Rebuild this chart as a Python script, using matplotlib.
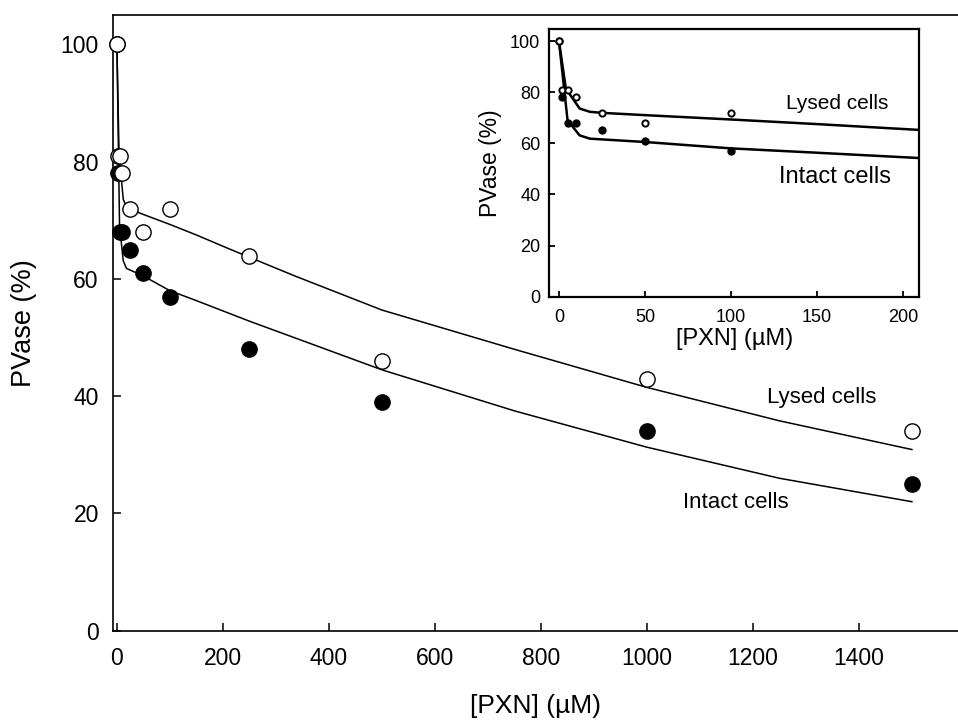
import matplotlib
matplotlib.use("Agg")
import matplotlib.pyplot as plt

plt.rcParams['font.family'] = ['Liberation Sans', 'DejaVu Sans']

# ---- data ----
conc = [0, 2, 5, 10, 25, 50, 100, 250, 500, 1000, 1500]
lysed = [100, 81, 81, 78, 72, 68, 72, 64, 46, 43, 34]
intact = [100, 78, 68, 68, 65, 61, 57, 48, 39, 34, 25]

lysed_fit_x = [0, 4, 12, 18, 25, 50, 100, 150, 210, 250, 336, 500, 750, 1000, 1250, 1500]
lysed_fit_y = [100, 81.4, 73.6, 72.3, 71.9, 71, 69.3, 67.5, 65.2, 63.7, 60.5, 54.7, 48.0, 41.5, 35.8, 30.9]
intact_fit_x = [0, 5, 12, 18, 50, 100, 150, 210, 250, 500, 750, 1000, 1250, 1500]
intact_fit_y = [100, 69, 63.1, 61.8, 60.5, 58, 56.3, 54.2, 52.8, 44.5, 37.5, 31.3, 26, 22]

main_xticks = [0, 200, 400, 600, 800, 1000, 1200, 1400]
main_yticks = [0, 20, 40, 60, 80, 100]
inset_xticks = [0, 50, 100, 150, 200]
inset_yticks = [0, 20, 40, 60, 80, 100]

fig = plt.figure(figsize=(9.58, 7.22), dpi=100)

# ---- main axes ----
ax = fig.add_axes([0.1176, 0.1265, 1 - 0.1176, 0.979 - 0.1265])
ax.plot(lysed_fit_x, lysed_fit_y, color='black', lw=1.1, zorder=2)
ax.plot(intact_fit_x, intact_fit_y, color='black', lw=1.1, zorder=2)
ax.plot(conc, intact, 'o', ms=11, mfc='black', mec='black', mew=1.0, zorder=3, clip_on=False)
ax.plot(conc, lysed, 'o', ms=11, mfc='white', mec='black', mew=1.0, zorder=4, clip_on=False)
ax.set_xlim(-8, 1587)
ax.set_ylim(0, 105)
ax.set_xticks(main_xticks)
ax.set_yticks(main_yticks)
ax.spines['right'].set_visible(False)
for s in ['left', 'bottom', 'top']:
    ax.spines[s].set_linewidth(1.2)
ax.tick_params(direction='in', length=6, width=1.1, labelsize=16.5, top=False, right=False)
ax.tick_params(axis='y', pad=10)
ax.tick_params(axis='x', pad=12)
ax.set_xlabel('[PXN] (µM)', fontsize=19, labelpad=17)
ax.set_ylabel('PVase (%)', fontsize=19.5, labelpad=17)
ax.text(1330, 39.8, 'Lysed cells', fontsize=16, ha='center', va='center')
ax.text(1168, 21.9, 'Intact cells', fontsize=16, ha='center', va='center')

# ---- inset ----
ins = fig.add_axes([0.5734, 0.5891, 0.3859, 0.3704])
ins.plot(lysed_fit_x, lysed_fit_y, color='black', lw=1.8, zorder=2)
ins.plot(intact_fit_x, intact_fit_y, color='black', lw=1.8, zorder=2)
ins.plot(conc, intact, 'o', ms=5, mfc='black', mec='black', mew=1.0, zorder=3)
ins.plot(conc, lysed, 'o', ms=4.5, mfc='white', mec='black', mew=1.4, zorder=4)
ins.set_xlim(-5.6, 209.3)
ins.set_ylim(0, 104.6)
ins.set_xticks(inset_xticks)
ins.set_yticks(inset_yticks)
for s in ins.spines.values():
    s.set_linewidth(1.6)
ins.tick_params(direction='in', length=4, width=1.3, labelsize=13)
ins.tick_params(axis='y', pad=6.5)
ins.tick_params(axis='x', pad=9)
ins.set_xlabel('[PXN] (µM)', fontsize=17, labelpad=1)
ins.set_ylabel('PVase (%)', fontsize=16.5, labelpad=6)
ins.text(161.8, 75.6, 'Lysed cells', fontsize=15, ha='center', va='center')
ins.text(160.6, 46.8, 'Intact cells', fontsize=17, ha='center', va='center')

fig.savefig('out.png', dpi=100)
